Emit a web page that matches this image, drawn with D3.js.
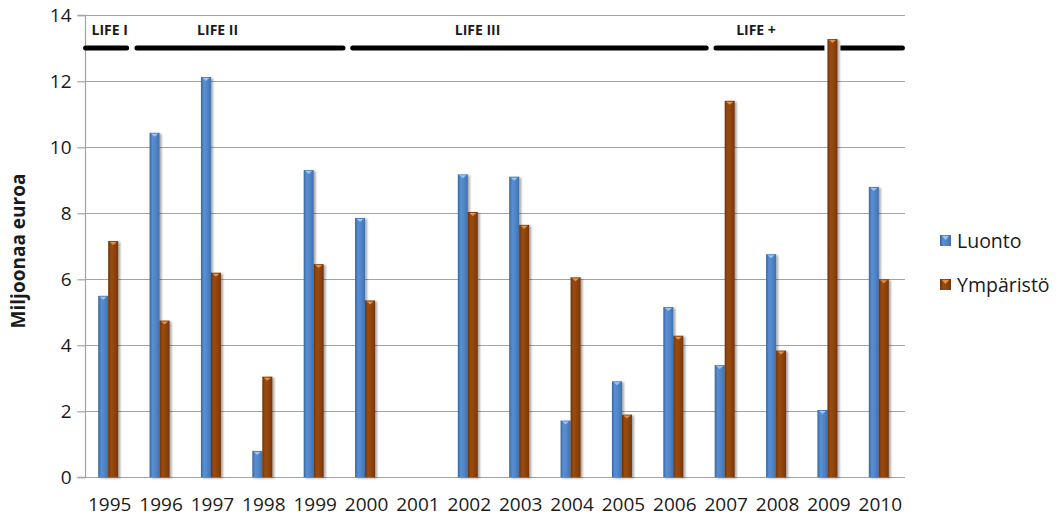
<!DOCTYPE html>
<html><head><meta charset="utf-8">
<script src="https://cdn.jsdelivr.net/npm/d3@7"></script>
<style>
html,body{margin:0;padding:0;background:#fff;}
svg{display:block;}
text{font-family:"Open Sans",sans-serif;fill:#1a1a1a;}
</style></head>
<body>
<svg id="chart" width="1061" height="521"></svg>
<script>
const years = ["1995","1996","1997","1998","1999","2000","2001","2002","2003","2004","2005","2006","2007","2008","2009","2010"];
const luonto = [5.50,10.44,12.13,0.80,9.31,7.86,null,9.18,9.11,1.72,2.91,5.16,3.40,6.76,2.04,8.80];
const ymparisto = [7.16,4.75,6.20,3.05,6.46,5.36,null,8.04,7.65,6.06,1.90,4.29,11.41,3.84,13.28,6.00];
const seriesNames = ["Luonto","Ympäristö"];
const yTicks = [0,2,4,6,8,10,12,14];
const periodLabels = ["LIFE I","LIFE II","LIFE III","LIFE +"];
const periodStart = [1994.55,1995.55,1999.75,2006.82];
const periodEnd = [1995.35,1999.56,2006.63,2010.45];
const periodLabelAt = [1995.02,1997.12,2002.18,2007.6];

(function(){
const svg = d3.select("#chart");
const W = 1061, H = 521;
const pLeft = 85, pRight = 905, pTop = 15.3, pBottom = 477.3;

const x = d3.scaleBand().domain(years).range([83, pRight]).padding(0);
const bw = x.bandwidth();
const x1 = d3.scaleBand().domain(seriesNames).range([bw/2 - 10.5, bw/2 + 9.5]).padding(0);
const y = d3.scaleLinear().domain([0,14]).range([pBottom, pTop]);
const yearX = d3.scaleLinear().domain([+years[0], +years[years.length-1]])
  .range([x(years[0]) + bw/2, x(years[years.length-1]) + bw/2]);

const colors = {
  "Luonto": {stops:["#3565a3","#5a8fd2","#4d82c4","#3e6fae"], tri:"#9cc3f2", key:"blue"},
  "Ympäristö": {stops:["#6e3204","#9a4c0e","#8c4208","#73360a"], tri:"#e3924a", key:"brown"}
};
const defs = svg.append("defs");
seriesNames.forEach(s => {
  const g = defs.append("linearGradient").attr("id","g-"+colors[s].key)
    .attr("x1","0%").attr("x2","100%").attr("y1","0%").attr("y2","0%");
  const c = colors[s].stops;
  g.append("stop").attr("offset","0%").attr("stop-color",c[0]);
  g.append("stop").attr("offset","30%").attr("stop-color",c[1]);
  g.append("stop").attr("offset","70%").attr("stop-color",c[2]);
  g.append("stop").attr("offset","100%").attr("stop-color",c[3]);
});
const sh = defs.append("filter").attr("id","shadow").attr("x","-50%").attr("y","-10%").attr("width","200%").attr("height","130%");
sh.append("feGaussianBlur").attr("in","SourceAlpha").attr("stdDeviation",1.2);
sh.append("feOffset").attr("dx",1.5).attr("dy",1).attr("result","ob");
sh.append("feComponentTransfer").append("feFuncA").attr("type","linear").attr("slope",0.35);
const mg = sh.append("feMerge"); mg.append("feMergeNode"); mg.append("feMergeNode").attr("in","SourceGraphic");

// gridlines
svg.append("g").selectAll("line").data(yTicks).join("line")
  .attr("x1", pLeft).attr("x2", pRight)
  .attr("y1", d => Math.round(y(d))+0.5).attr("y2", d => Math.round(y(d))+0.5)
  .attr("stroke","#a3a3a3").attr("stroke-width",1.2);

// y axis
const yAxis = d3.axisLeft(y).tickValues(yTicks).tickSize(8).tickPadding(6).tickFormat(d3.format("d"));
const ya = svg.append("g").attr("transform",`translate(${pLeft+0.5},0)`).call(yAxis);
ya.select(".domain").attr("stroke","#a3a3a3").attr("stroke-width",1.2).attr("d",`M-8,${pTop}H0V${pBottom}H-8`);
ya.selectAll(".tick line").attr("stroke","#a3a3a3").attr("stroke-width",1.2);
ya.selectAll(".tick text").style("font-family","'Open Sans',sans-serif").style("font-size","19px").attr("fill","#1a1a1a").attr("dy","0.35em").attr("x",-14);

// x axis labels
const xAxis = d3.axisBottom(x).tickSize(0).tickPadding(20);
const xa = svg.append("g").attr("transform",`translate(1,${pBottom})`).call(xAxis);
xa.select(".domain").remove();
xa.selectAll(".tick text").style("font-family","'Open Sans',sans-serif").style("font-size","19px").attr("fill","#1a1a1a");

// y title
svg.append("text").attr("transform",`translate(25,251) rotate(-90)`)
  .attr("text-anchor","middle").style("font-size","19px").style("font-weight","700").attr("fill","#000")
  .text("Miljoonaa euroa");

// period lines
const periods = periodLabels.map((l,i)=>({label:l, s:periodStart[i], e:periodEnd[i], at:periodLabelAt[i]}));
svg.append("g").selectAll("line").data(periods).join("line")
  .attr("x1", d => yearX(d.s)).attr("x2", d => yearX(d.e))
  .attr("y1", 48).attr("y2", 48)
  .attr("stroke","#000").attr("stroke-width",5).attr("stroke-linecap","round");
svg.append("g").selectAll("text").data(periods).join("text")
  .attr("x", d => yearX(d.at)).attr("y", 35).attr("text-anchor","middle")
  .style("font-size","14px").style("font-weight","700").attr("fill","#000")
  .text(d => d.label);

// bars
const data = [];
years.forEach((yr,i)=>{
  [luonto[i], ymparisto[i]].forEach((v,j)=>{
    if (v != null) data.push({year:yr, series:seriesNames[j], value:v});
  });
});
const clip = defs.append("clipPath").attr("id","bandclip");
clip.append("rect").attr("x",0).attr("y",40).attr("width",W).attr("height",16);
svg.append("g").attr("clip-path","url(#bandclip)").selectAll("rect").data(data).join("rect")
  .attr("x", d => x(d.year) + x1(d.series) - 3)
  .attr("width", x1.bandwidth() + 6)
  .attr("y", d => y(d.value) - 2)
  .attr("height", d => y(0) - y(d.value) + 2)
  .attr("fill","#fff");

const bars = svg.append("g").selectAll("g").data(data).join("g");
bars.append("rect")
  .attr("x", d => x(d.year) + x1(d.series))
  .attr("width", x1.bandwidth())
  .attr("y", d => y(d.value))
  .attr("height", d => y(0) - y(d.value))
  .attr("fill", d => `url(#g-${colors[d.series].key})`)
  .attr("filter","url(#shadow)");
bars.append("path")
  .attr("d", d => {
    const cx = x(d.year) + x1(d.series) + x1.bandwidth()/2;
    const ty = y(d.value);
    return `M${cx-3.5},${ty+1}L${cx+3.5},${ty+1}L${cx},${ty+4}Z`;
  })
  .attr("fill", d => colors[d.series].tri);

// legend
const lg = svg.append("g").attr("transform","translate(940,0)");
const legY = [241, 285];
seriesNames.forEach((s,i)=>{
  const g = lg.append("g").attr("transform",`translate(0,${legY[i]})`);
  g.append("rect").attr("x",0).attr("y",-6).attr("width",11).attr("height",11)
    .attr("fill",`url(#g-${colors[s].key})`);
  g.append("path").attr("d","M2,-5L9,-5L5.5,-1Z").attr("fill",colors[s].tri);
  g.append("text").attr("x",17).attr("y",0).attr("dy","0.35em")
    .style("font-size","19.5px").attr("fill","#1a1a1a").text(s);
});
})();
</script>
</body></html>
